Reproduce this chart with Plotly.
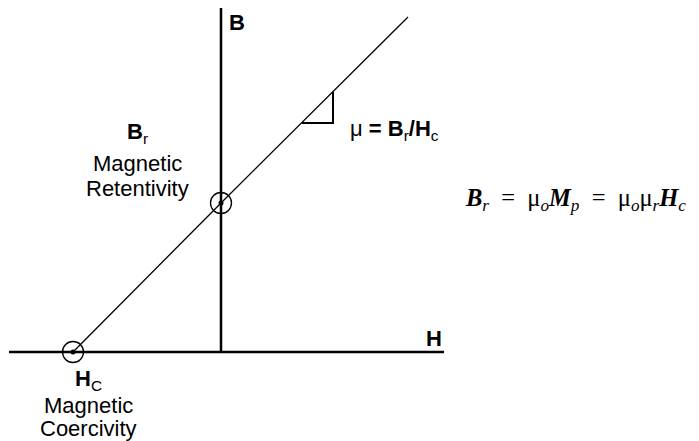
import plotly.graph_objects as go

# --- data (origin = crossing of the H and B axes) ---
h_axis_x = [-212, 223]
h_axis_y = [0, 0]
b_axis_x = [0, 0]
b_axis_y = [0, 344]

# demagnetisation line: Hc -> Br -> beyond
line_h = [-148, 0, 187]
line_b = [0, 149, 335]

# marked points (coercivity, retentivity)
point_h = [-148, 0]
point_b = [0, 149]

# slope triangle
tri_h = [81, 112, 112]
tri_b = [229, 229, 260]

SANS = "Liberation Sans, Arial, sans-serif"
SERIF = "Liberation Serif, Times New Roman, serif"
BLACK = "black"

fig = go.Figure()

# axes
fig.add_trace(go.Scatter(x=h_axis_x, y=h_axis_y, mode="lines",
                         line=dict(color=BLACK, width=2.5), hoverinfo="skip"))
fig.add_trace(go.Scatter(x=b_axis_x, y=b_axis_y, mode="lines",
                         line=dict(color=BLACK, width=2.5), hoverinfo="skip"))

# the line and slope triangle
fig.add_trace(go.Scatter(x=line_h, y=line_b, mode="lines",
                         line=dict(color=BLACK, width=1.3), hoverinfo="skip"))
fig.add_trace(go.Scatter(x=tri_h, y=tri_b, mode="lines",
                         line=dict(color=BLACK, width=2), hoverinfo="skip"))

# circled points
fig.add_trace(go.Scatter(x=point_h, y=point_b, mode="markers",
                         marker=dict(symbol="circle-open", size=21, color=BLACK,
                                     line=dict(width=1.3, color=BLACK)),
                         hoverinfo="skip"))
fig.add_trace(go.Scatter(x=point_h, y=point_b, mode="markers",
                         marker=dict(symbol="circle", size=5, color=BLACK),
                         hoverinfo="skip"))

# --- labels ---
def label(x, y, text, size=22, family=SANS, xanchor="center"):
    fig.add_annotation(x=x, y=y, text=text, showarrow=False, xanchor=xanchor,
                       yanchor="middle", font=dict(family=family, size=size, color=BLACK))

label(6, 330, "<b>B</b>", xanchor="left")
label(213, 14, "<b>H</b>")

label(-84, 219, "<b>B</b><sub>r</sub>")
label(-84, 189, "Magnetic")
label(-84, 164, "Retentivity")

label(-133, -28, "<b>H</b><sub>C</sub>")
label(-133, -53, "Magnetic")
label(-133, -76, "Coercivity")

label(127, 222, "μ <b>= B</b><sub>r</sub><b>/H</b><sub>c</sub>", xanchor="left")

label(242, 153,
      "<b><i>B</i></b><sub><i>r</i></sub>\u00a0 =\u00a0 μ<sub><i>o</i></sub><b><i>M</i></b>"
      "<sub><i>p</i></sub>\u00a0 =\u00a0 μ<sub><i>o</i></sub>μ<sub><i>r</i></sub>"
      "<b><i>H</i></b><sub><i>c</i></sub>",
      size=24.5, family=SERIF, xanchor="left")

# the page body has an 8px margin, so the figure is 8px smaller and the ranges start 8px in
fig.update_layout(
    width=691, height=433,
    margin=dict(l=0, r=0, t=0, b=0),
    showlegend=False,
    plot_bgcolor="white", paper_bgcolor="white",
    xaxis=dict(range=[-213, 478], visible=False, fixedrange=True),
    yaxis=dict(range=[-89, 344], visible=False, fixedrange=True),
)

fig.write_html("out.html")
